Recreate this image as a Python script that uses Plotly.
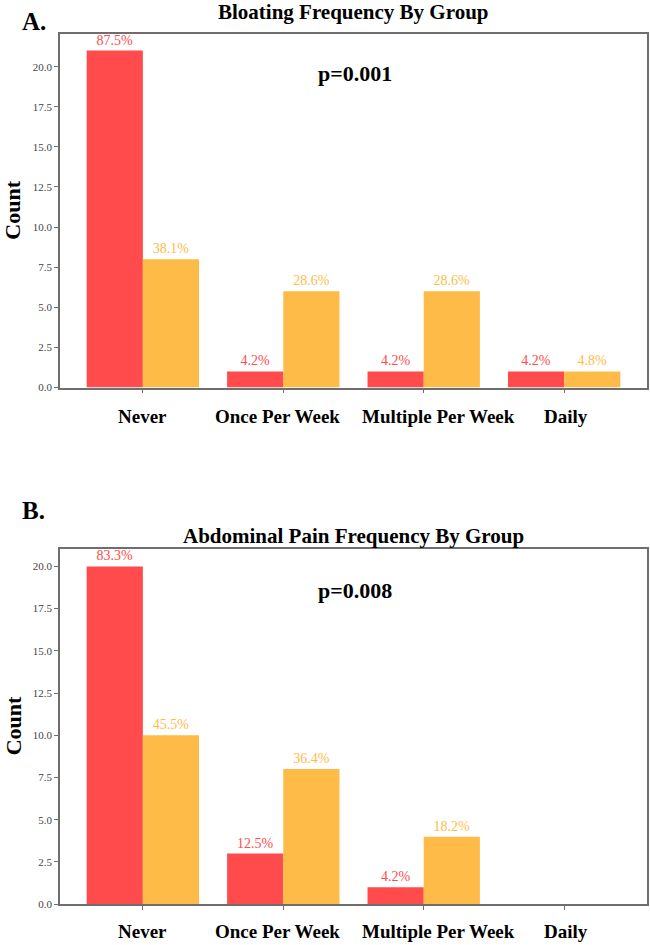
import plotly.graph_objects as go

categories = ["Never", "Once Per Week", "Multiple Per Week", "Daily"]

# Panel A: Bloating
a_red_counts = [21, 1, 1, 1]
a_red_pct = ["87.5%", "4.2%", "4.2%", "4.2%"]
a_org_counts = [8, 6, 6, 1]
a_org_pct = ["38.1%", "28.6%", "28.6%", "4.8%"]
a_title = "Bloating Frequency By Group"
a_p = "p=0.001"

# Panel B: Abdominal pain
b_red_counts = [20, 3, 1, 0]
b_red_pct = ["83.3%", "12.5%", "4.2%", ""]
b_org_counts = [10, 8, 4, 0]
b_org_pct = ["45.5%", "36.4%", "18.2%", ""]
b_title = "Abdominal Pain Frequency By Group"
b_p = "p=0.008"

yticks = [0, 2.5, 5, 7.5, 10, 12.5, 15, 17.5, 20]

W, H = 650, 945
RED = "#FF4B4B"
ORG = "#FFBB48"
FONT = "Liberation Serif"
AXC = "#6e6e6e"

def px_x(x):
    return x / W

def px_y(y):
    return 1 - y / H

xs = list(range(len(categories)))

fig = go.Figure()

panels = [
    dict(red=a_red_counts, redt=a_red_pct, org=a_org_counts, orgt=a_org_pct,
         xa="x", ya="y"),
    dict(red=b_red_counts, redt=b_red_pct, org=b_org_counts, orgt=b_org_pct,
         xa="x2", ya="y2"),
]

for p in panels:
    fig.add_trace(go.Bar(x=xs, y=p["red"], text=p["redt"], textposition="outside",
                         textfont=dict(color=RED, size=14, family=FONT),
                         marker=dict(color=RED, line=dict(width=0)),
                         constraintext="none", cliponaxis=False,
                         xaxis=p["xa"], yaxis=p["ya"], showlegend=False,
                         offsetgroup="r"))
    fig.add_trace(go.Bar(x=xs, y=p["org"], text=p["orgt"], textposition="outside",
                         textfont=dict(color=ORG, size=14, family=FONT),
                         marker=dict(color=ORG, line=dict(width=0)),
                         constraintext="none", cliponaxis=False,
                         xaxis=p["xa"], yaxis=p["ya"], showlegend=False,
                         offsetgroup="o"))

xdom = [px_x(60), px_x(647)]
common_x = dict(range=[-0.59, 3.59], tickvals=xs, showticklabels=False,
                ticks="outside", ticklen=4, tickcolor=AXC, tickwidth=1,
                showline=True, linecolor=AXC, linewidth=1.5, mirror=True,
                showgrid=False, zeroline=False)
common_y = dict(tickvals=yticks, ticktext=[f"{v:.1f}" for v in yticks],
                ticks="outside", ticklen=4, tickcolor=AXC, tickwidth=1,
                tickfont=dict(family=FONT, size=11, color="#444444"),
                showline=True, linecolor=AXC, linewidth=1.5, mirror=True,
                showgrid=False, zeroline=False)

fig.update_layout(
    width=W, height=H,
    margin=dict(l=0, r=0, t=0, b=0),
    paper_bgcolor="white", plot_bgcolor="white",
    barmode="group", bargap=0.2, bargroupgap=0,
    showlegend=False,
    xaxis=dict(domain=xdom, anchor="y", **common_x),
    yaxis=dict(domain=[px_y(390), px_y(34)], range=[0, 22.05], anchor="x", **common_y),
    xaxis2=dict(domain=xdom, anchor="y2", **common_x),
    yaxis2=dict(domain=[px_y(910), px_y(553)], range=[0, 21.0], anchor="x2", **common_y),
)

ann = []
def text(x, y, s, size, bold=True, angle=0, color="black", xanchor="center"):
    ann.append(dict(x=px_x(x), y=px_y(y), xref="paper", yref="paper", text=s,
                    showarrow=False, xanchor=xanchor, yanchor="middle", textangle=angle,
                    font=dict(family=FONT, size=size, color=color,
                              weight="bold" if bold else "normal")))

# Panel A
text(20, 22, "A.", 25, xanchor="left")
text(353, 12, a_title, 21)
text(355, 74, a_p, 22)
text(13, 212, "Count", 22, angle=-90)
# Panel B
text(20, 514, "B.", 25, xanchor="left")
text(353, 539, b_title, 21)
text(355, 594, b_p, 22)
text(13, 731, "Count", 22, angle=-90)

label_shift = [0, -6, 15, 2]
for i, c in enumerate(categories):
    for xa, ya, yshift in (("x", "y", -29), ("x2", "y2", -27)):
        ann.append(dict(x=i, y=0, xref=xa, yref=ya, text=c, showarrow=False,
                        xanchor="center", yanchor="middle", xshift=label_shift[i],
                        yshift=yshift,
                        font=dict(family=FONT, size=19, color="black", weight="bold")))

fig.update_layout(annotations=ann)
fig.write_html("out.html")
